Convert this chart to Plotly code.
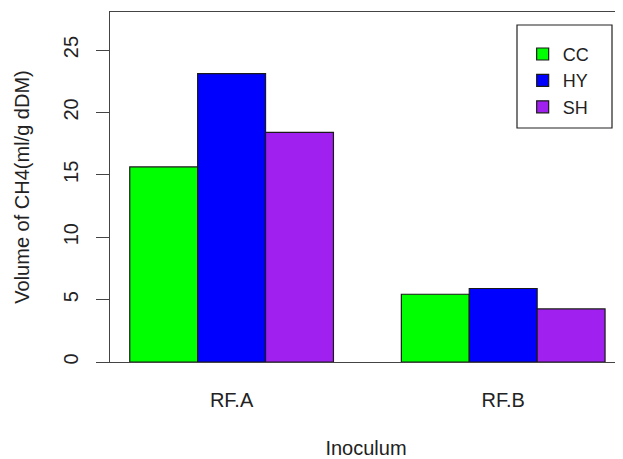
import plotly.graph_objects as go

categories = ["RF.A", "RF.B"]
series_names = ["CC", "HY", "SH"]
cc_values = [15.63, 5.43]
hy_values = [23.11, 5.89]
sh_values = [18.41, 4.25]
colors = ["#00FF00", "#0000FF", "#A020F0"]
y_ticks = [0, 5, 10, 15, 20, 25]

fig = go.Figure()
for name, vals, col in zip(series_names, [cc_values, hy_values, sh_values], colors):
    fig.add_trace(go.Bar(
        x=categories, y=vals, name=name,
        marker=dict(color=col, line=dict(color="#1a1a1a", width=1.2)),
    ))

font = "Liberation Sans, Arial, sans-serif"
fs = 20
# page has an 8px body margin, so the figure is sized to fill the 623x459 window
fig.update_layout(
    width=615, height=451,
    margin=dict(l=102, r=1, t=4, b=97),
    paper_bgcolor="white", plot_bgcolor="white",
    barmode="group", bargap=0.25, bargroupgap=0,
    font=dict(family=font, size=fs, color="#222"),
    showlegend=True,
    legend=dict(
        x=0.806, y=0.932, xanchor="left", yanchor="top",
        borderwidth=0, bgcolor="rgba(0,0,0,0)",
        font=dict(size=18, family=font),
        itemwidth=30, tracegroupgap=0,
    ),
    shapes=[dict(type="rect", xref="paper", yref="paper",
                 x0=(517 - 110) / 512, x1=(612 - 110) / 512,
                 y0=(362 - 128) / 350, y1=(362 - 25) / 350,
                 line=dict(color="#222", width=1.2), fillcolor="rgba(0,0,0,0)",
                 layer="below")],
    xaxis=dict(
        range=[-0.4477, 1.4374], automargin=False,
        showline=True, linecolor="#444", linewidth=1.2, mirror=True,
        ticks="", ticklabelstandoff=20,
        tickfont=dict(size=fs, family=font),
        title=dict(text="Inoculum", standoff=31, font=dict(size=fs, family=font)),
        showgrid=False, zeroline=False,
    ),
    yaxis=dict(
        range=[0, 28.05], automargin=False,
        tickvals=y_ticks,
        showline=True, linecolor="#444", linewidth=1.2, mirror=True,
        ticks="outside", ticklen=13, tickcolor="#444", tickwidth=1.2,
        ticklabelstandoff=10,
        tickangle=-90, tickfont=dict(size=fs, family=font),
        title=dict(text="Volume of CH4(ml/g dDM)", standoff=24, font=dict(size=fs, family=font)),
        showgrid=False, zeroline=False,
    ),
)

fig.write_html("out.html")
